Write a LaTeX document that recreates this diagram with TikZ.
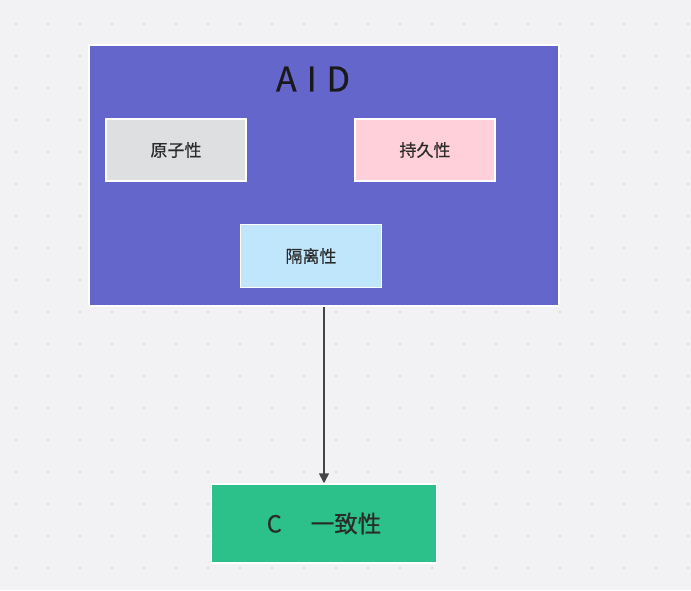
\documentclass[tikz,border=0pt]{standalone}
\usepackage{fontspec}
\setmainfont{Noto Sans CJK SC}
\newfontfamily\medfont{Noto Sans CJK SC}[FakeBold=0.5]
\usetikzlibrary{arrows.meta}
\definecolor{bgc}{HTML}{F2F2F4}
\definecolor{dotc}{HTML}{C9C9CD}
\definecolor{purp}{HTML}{6466CB}
\definecolor{greyb}{HTML}{DEDFE1}
\definecolor{pinkb}{HTML}{FFD0D9}
\definecolor{blueb}{HTML}{C0E6FC}
\definecolor{greenb}{HTML}{2CC18A}
\definecolor{txt}{HTML}{2A2A2A}
\definecolor{arr}{HTML}{444444}
\tikzset{
  box/.style={rectangle, draw=white, line width=1.5pt, inner sep=0pt, text=txt,
    font=\medfont\fontsize{17}{19}\selectfont},
  smallbox/.style={box, minimum width=140pt, minimum height=62pt},
  conn/.style={draw=arr, line width=1.6pt, -{Triangle[length=10pt,width=10pt]}}
}
\begin{document}
\begin{tikzpicture}[x=1pt,y=-1pt]
\fill[bgc] (0,0) rectangle (691,590);
\useasboundingbox (0,0) rectangle (691,590);
\foreach \i in {0,...,21} {
  \foreach \j in {0,...,17} {
    \fill[dotc] ({16+32*\i},{24+32*\j}) circle (0.9);
  }
}
\node[box, fill=purp, minimum width=470pt, minimum height=261pt] (aid) at (324,175.5) {};
\node[inner sep=0pt, text=black!90, font=\medfont\fontsize{34}{36}\selectfont] (title) at (313,79) {A\kern10pt I\kern10pt D};
\node[smallbox, fill=greyb] (atom) at (176,150) {原子性};
\node[smallbox, fill=pinkb] (dur) at (425,150) {持久性};
\node[smallbox, fill=blueb, minimum width=141pt, minimum height=63pt] (iso) at (311,256) {隔离性};
\node[box, fill=greenb, minimum width=225pt, minimum height=79pt,
  font=\medfont\fontsize{23.5}{26}\selectfont] (cons) at (324,523.5) {C\hspace{29pt}一致性};
\draw[conn] (aid.south) -- (cons.north);
\end{tikzpicture}
\end{document}
